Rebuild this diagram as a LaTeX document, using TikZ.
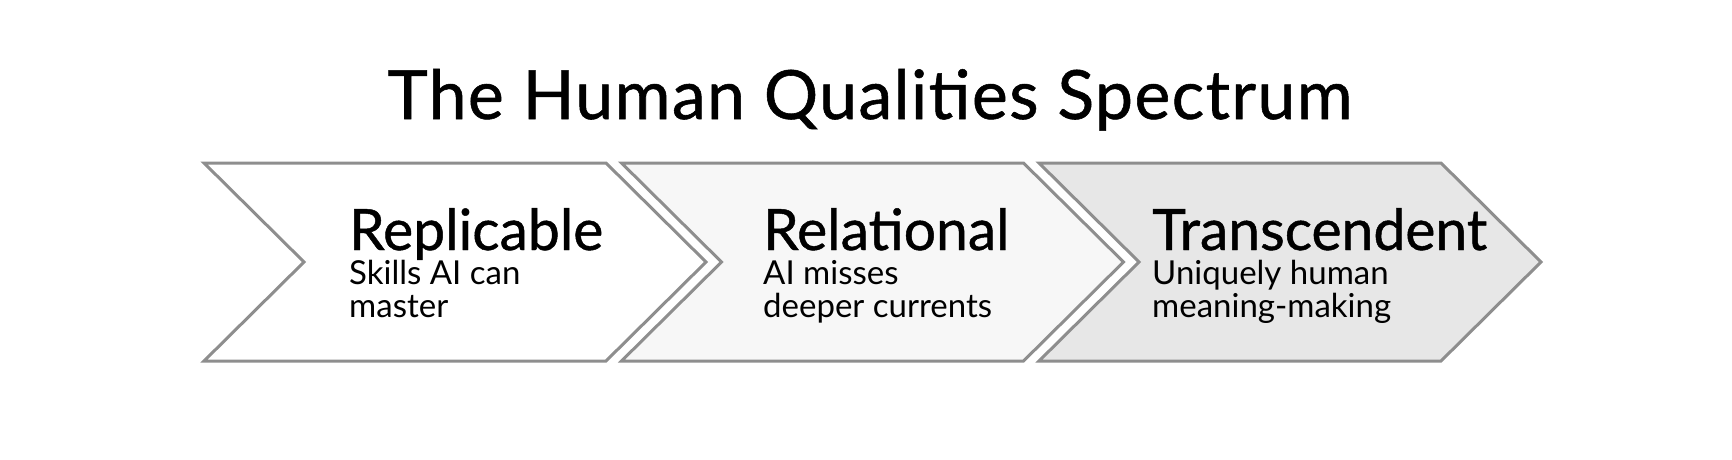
\documentclass[tikz,border=0pt]{standalone}
\usepackage{fontspec}
\setmainfont{Lato}
\newfontfamily\titlefont{Lato}[FakeBold=0.8, LetterSpace=2]
\newfontfamily\headfont{Lato}[FakeBold=0.8]
\usetikzlibrary{math,positioning}
\definecolor{myedge}{RGB}{142,142,142}
\definecolor{myfillA}{RGB}{255,255,255}
\definecolor{myfillB}{RGB}{247,247,247}
\definecolor{myfillC}{RGB}{231,231,231}

\tikzset{
  chev/.style={draw=myedge, line width=3pt, line join=miter},
  headtxt/.style={anchor=base west, inner sep=0pt, text depth=0pt, font=\headfont\fontsize{57}{57}\selectfont},
  subtxt/.style={anchor=north west, inner sep=0pt, align=left, font=\fontsize{33}{33}\selectfont},
}

\begin{document}
\begin{tikzpicture}[x=1pt,y=-1pt]
\tikzmath{
\T=163; \B=361; \M=262;
\W=402; \D=100;
}
\useasboundingbox (0,0) rectangle (1732,460);

\node[anchor=base, inner sep=0pt, font=\titlefont\fontsize{68}{68}\selectfont] (title) at (870,119) {The Human Qualities Spectrum};

\foreach \L/\c in {204/myfillA, 621.5/myfillB, 1039/myfillC}{
\filldraw[chev, fill=\c] (\L,\T) -- (\L+\W,\T) -- (\L+\W+\D,\M) -- (\L+\W,\B) -- (\L,\B) -- (\L+\D,\M) -- cycle;
}

\node[headtxt] (repl) at (349,250) {Replicable};
\node[subtxt, below=10pt of repl.base west, anchor=north west] (replsub) {Skills AI can\\master};

\node[headtxt] (rela) at (763,250) {Relational};
\node[subtxt, below=10pt of rela.base west, anchor=north west] (relasub) {AI misses\\deeper currents};

\node[headtxt] (tran) at (1152,250) {Transcendent};
\node[subtxt, below=10pt of tran.base west, anchor=north west] (transub) {Uniquely human\\meaning-making};
\end{tikzpicture}
\end{document}
